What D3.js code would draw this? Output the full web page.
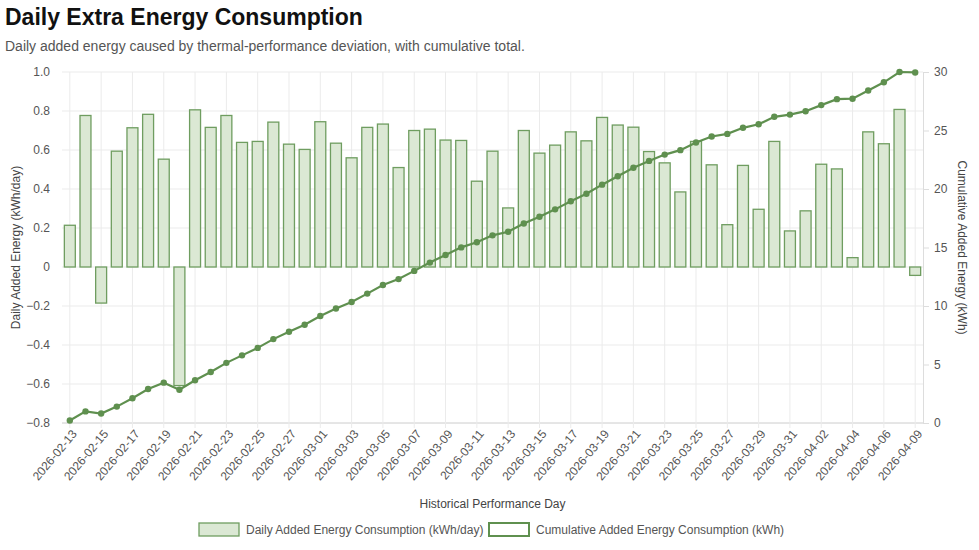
<!DOCTYPE html>
<html>
<head>
<meta charset="utf-8">
<script src="https://cdn.jsdelivr.net/npm/d3@7"></script>
<style>
body{margin:0;background:#fff;font-family:"Helvetica Neue",Arial,"Liberation Sans",sans-serif;}
.tick text{fill:#555;font-size:12px;}
</style>
</head>
<body>
<svg width="979" height="550"></svg>
<script>
// days shown on the x axis (04-08 absent in the source)
var days = d3.timeDays(new Date(2026,1,13), new Date(2026,3,8)).map(d3.timeFormat('%Y-%m-%d'));
days.push('2026-04-09');

var daily = [0.214,0.777,-0.185,0.594,0.714,0.783,0.553,-0.608,0.806,0.716,0.777,0.639,0.644,0.743,0.630,0.603,0.745,0.635,0.560,0.716,
  0.733,0.510,0.700,0.707,0.651,0.649,0.440,0.594,0.303,0.700,0.584,0.625,0.693,0.647,0.767,0.728,0.717,0.592,0.534,0.385,
  0.644,0.524,0.217,0.521,0.296,0.644,0.185,0.288,0.527,0.503,0.048,0.693,0.632,0.808,-0.043];

var cumulative = [0.21,0.99,0.81,1.40,2.11,2.90,3.45,2.84,3.65,4.36,5.14,5.78,6.42,7.17,7.80,8.40,9.15,9.78,10.34,11.06,
  11.79,12.30,13.00,13.71,14.36,15.01,15.45,16.04,16.35,17.05,17.63,18.26,18.95,19.60,20.37,21.09,21.81,22.40,22.94,23.32,
  23.97,24.49,24.71,25.23,25.53,26.17,26.36,26.65,27.17,27.68,27.72,28.42,29.12,30.0,29.96];

var leftTicks = [-0.8,-0.6,-0.4,-0.2,0,0.2,0.4,0.6,0.8,1.0];
var rightTicks = [0,5,10,15,20,25,30];

var barFill = '#dbe8d4', barStroke = '#6f9d60', lineColor = '#5f904f';
var pLeft = 62, pRight = 923, pTop = 72, pBottom = 423;

var svg = d3.select('svg');

svg.append('text').text('Daily Extra Energy Consumption')
    .attr('x',5).attr('y',25).attr('font-size','23px').attr('font-weight','bold').attr('fill','#111');
svg.append('text').text('Daily added energy caused by thermal-performance deviation, with cumulative total.')
    .attr('x',5).attr('y',51).attr('font-size','14px').attr('fill','#555');

var x = d3.scaleBand().domain(days).range([pLeft,pRight]).paddingInner(0.3).paddingOuter(0.15);
var cx = function(d){ return x(d) + x.bandwidth()/2; };
var yL = d3.scaleLinear().domain([-0.8,1.0]).range([pBottom,pTop]);
var yR = d3.scaleLinear().domain([0,30]).range([pBottom,pTop]);

//grid lines
var shown = days.filter(function(d,i){ return i % 2 == 0; });
svg.append('g').selectAll('line').data(leftTicks).enter().append('line')
    .attr('x1',pLeft).attr('x2',pRight).attr('y1',yL).attr('y2',yL)
    .attr('stroke',function(d){ return d == -0.8 ? '#ccc' : '#ebebeb'; });
svg.append('g').selectAll('line').data(shown).enter().append('line')
    .attr('x1',cx).attr('x2',cx).attr('y1',pTop).attr('y2',pBottom+5).attr('stroke','#ebebeb');

//axes
var fmt = function(d){ return d == 0 ? '0' : d3.format('.1f')(d); };
var gl = svg.append('g').attr('transform','translate('+pLeft+',0)')
    .call(d3.axisLeft(yL).tickValues(leftTicks).tickFormat(fmt).tickSize(0).tickPadding(12));
var gr = svg.append('g').attr('transform','translate('+pRight+',0)')
    .call(d3.axisRight(yR).tickValues(rightTicks).tickSize(6).tickPadding(5));
gl.select('.domain').remove();
gr.select('.domain').attr('stroke','#ddd');
gr.selectAll('.tick line').attr('stroke','#ddd');

var gx = svg.append('g').attr('transform','translate(0,'+pBottom+')')
    .call(d3.axisBottom(x).tickValues(shown).tickSize(0).tickPadding(6));
gx.select('.domain').remove();
gx.selectAll('text').attr('text-anchor','end').attr('dx','-0.3em').attr('dy','0.6em')
    .attr('transform','rotate(-50)');

//bars
var zero = yL(0);
svg.append('g').selectAll('rect').data(daily).enter().append('rect')
    .attr('x',function(d,i){ return x(days[i]); })
    .attr('width',x.bandwidth())
    .attr('y',function(d){ return Math.min(yL(d),zero); })
    .attr('height',function(d){ return Math.abs(yL(d)-zero); })
    .attr('fill',barFill).attr('stroke',barStroke).attr('stroke-width',1.3);

//cumulative line
var line = d3.line().x(function(d,i){ return cx(days[i]); }).y(function(d){ return yR(d); });
svg.append('path').datum(cumulative).attr('d',line)
    .attr('fill','none').attr('stroke',lineColor).attr('stroke-width',2.2);
svg.append('g').selectAll('circle').data(cumulative).enter().append('circle')
    .attr('cx',function(d,i){ return cx(days[i]); }).attr('cy',yR).attr('r',3.2).attr('fill',lineColor);

//axis titles
svg.append('text').text('Daily Added Energy (kWh/day)')
    .attr('transform','translate(20,'+((pTop+pBottom)/2)+')rotate(-90)')
    .attr('text-anchor','middle').attr('font-size','12px').attr('fill','#444');
svg.append('text').text('Cumulative Added Energy (kWh)')
    .attr('transform','translate(958,'+((pTop+pBottom)/2)+')rotate(90)')
    .attr('text-anchor','middle').attr('font-size','12px').attr('fill','#444');
svg.append('text').text('Historical Performance Day')
    .attr('x',(pLeft+pRight)/2).attr('y',508).attr('text-anchor','middle').attr('font-size','12px').attr('fill','#444');

//legend
var lg = svg.append('g').attr('transform','translate(199,523)');
lg.append('rect').attr('width',40).attr('height',13).attr('fill',barFill).attr('stroke',barStroke).attr('stroke-width',1.3);
lg.append('text').text('Daily Added Energy Consumption (kWh/day)').attr('x',47).attr('y',11).attr('font-size','12px').attr('fill','#555');
lg.append('rect').attr('x',290).attr('width',40).attr('height',13).attr('fill','#fff').attr('stroke',lineColor).attr('stroke-width',2);
lg.append('text').text('Cumulative Added Energy Consumption (kWh)').attr('x',337).attr('y',11).attr('font-size','12px').attr('fill','#555');
</script>
</body>
</html>
